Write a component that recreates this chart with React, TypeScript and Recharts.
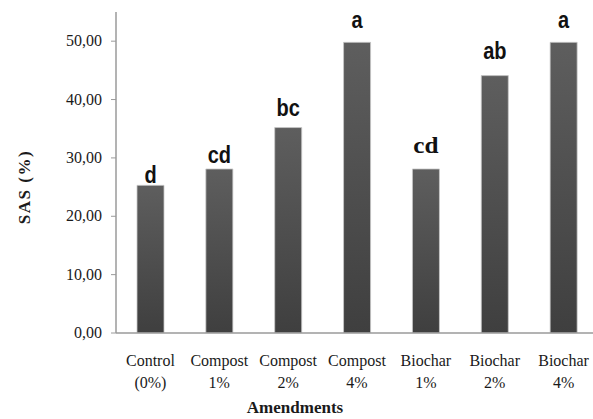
import React from 'react';
import { BarChart, Bar, XAxis, YAxis, LabelList } from 'recharts';

// SAS (%) by soil amendment
const amendments = [
  'Control (0%)',
  'Compost 1%',
  'Compost 2%',
  'Compost 4%',
  'Biochar 1%',
  'Biochar 2%',
  'Biochar 4%',
];
const sasValues = [25.3, 28.1, 35.2, 49.8, 28.1, 44.1, 49.8];
const groupLetters = ['d', 'cd', 'bc', 'a', 'cd', 'ab', 'a'];
const yTicks = [0, 10, 20, 30, 40, 50];

// label styling: gap above the bar, and which ones were typeset in serif
const letterGap = [2, 6, 12, 14, 16, 17, 14];
const serifLetter = [false, false, false, false, true, false, false];

const data = amendments.map((name, i) => ({
  name,
  sas: sasValues[i],
  letter: groupLetters[i],
}));

const SERIF = 'Liberation Serif, Times New Roman, serif';
const SANS = 'Liberation Sans, Arial, sans-serif';

const CategoryTick = (props: any) => {
  const { x, y, payload } = props;
  const parts = String(payload.value).split(' ');
  return (
    <text
      x={x}
      y={y}
      textAnchor="middle"
      style={{ fontFamily: SERIF, fontSize: 16 }}
      fill="#1a1a1a"
    >
      <tspan x={x} dy={25}>{parts[0]}</tspan>
      <tspan x={x} dy={22}>{parts[1]}</tspan>
    </text>
  );
};

const ValueTick = (props: any) => {
  const { x, y, payload } = props;
  return (
    <text
      x={x}
      y={y}
      dy={5}
      textAnchor="end"
      style={{ fontFamily: SERIF, fontSize: 16 }}
      fill="#1a1a1a"
    >
      {Number(payload.value).toFixed(2).replace('.', ',')}
    </text>
  );
};

// letters in the source are vertically stretched, so scale them a little
const LetterLabel = (props: any) => {
  const { x, y, width, index, value } = props;
  const serif = serifLetter[index];
  const cx = x + width / 2;
  const base = y - letterGap[index];
  return (
    <text
      x={0}
      y={0}
      transform={`translate(${cx}, ${base}) scale(${serif ? '1.05, 1' : '1, 1.18'})`}
      textAnchor="middle"
      style={{
        fontFamily: serif ? SERIF : SANS,
        fontWeight: 'bold',
        fontSize: serif ? 24 : 20,
      }}
      fill="#111"
    >
      {value}
    </text>
  );
};

const YTitle = (props: any) => {
  const { viewBox } = props;
  const cx = viewBox.x + viewBox.width - 92;
  const cy = viewBox.y + 175;
  return (
    <text
      x={cx}
      y={cy}
      transform={`rotate(-90, ${cx}, ${cy})`}
      textAnchor="middle"
      dominantBaseline="central"
      style={{ fontFamily: SERIF, fontWeight: 'bold', fontSize: 17, letterSpacing: 1.5 }}
      fill="#1a1a1a"
    >
      SAS (%)
    </text>
  );
};

const XTitle = (props: any) => {
  const { viewBox } = props;
  return (
    <text
      x={viewBox.x + 179}
      y={viewBox.y + 80}
      textAnchor="middle"
      style={{ fontFamily: SERIF, fontWeight: 'bold', fontSize: 17 }}
      fill="#1a1a1a"
    >
      Amendments
    </text>
  );
};

export default function App() {
  return (
    <div
      style={{
        position: 'absolute',
        left: 0,
        top: 0,
        width: 593,
        height: 419,
        overflow: 'hidden',
        background: '#fff',
        fontFamily: SERIF,
      }}
    >
      <BarChart
        width={600}
        height={419}
        data={data}
        margin={{ top: 12, right: 2, bottom: 0, left: 0 }}
        barSize={27}
      >
        <defs>
          <linearGradient id="barFill" x1="0" y1="0" x2="0" y2="1">
            <stop offset="0%" stopColor="#5e5e5e" />
            <stop offset="100%" stopColor="#3f3f3f" />
          </linearGradient>
        </defs>
        <XAxis
          dataKey="name"
          height={86}
          interval={0}
          axisLine={{ stroke: '#9a9a9a', strokeWidth: 1.5 }}
          tickLine={false}
          tick={<CategoryTick />}
          label={{ content: <XTitle /> }}
        />
        <YAxis
          width={116}
          domain={[0, 55]}
          ticks={yTicks}
          allowDataOverflow
          axisLine={{ stroke: '#9a9a9a', strokeWidth: 1.5 }}
          tickLine={{ stroke: '#9a9a9a' }}
          tickSize={5}
          tickMargin={9}
          tick={<ValueTick />}
          label={{ content: <YTitle /> }}
        />
        <Bar
          dataKey="sas"
          fill="url(#barFill)"
          stroke="#c8c8c8"
          strokeWidth={0.8}
          isAnimationActive={false}
        >
          <LabelList dataKey="letter" content={<LetterLabel />} />
        </Bar>
      </BarChart>
    </div>
  );
}
